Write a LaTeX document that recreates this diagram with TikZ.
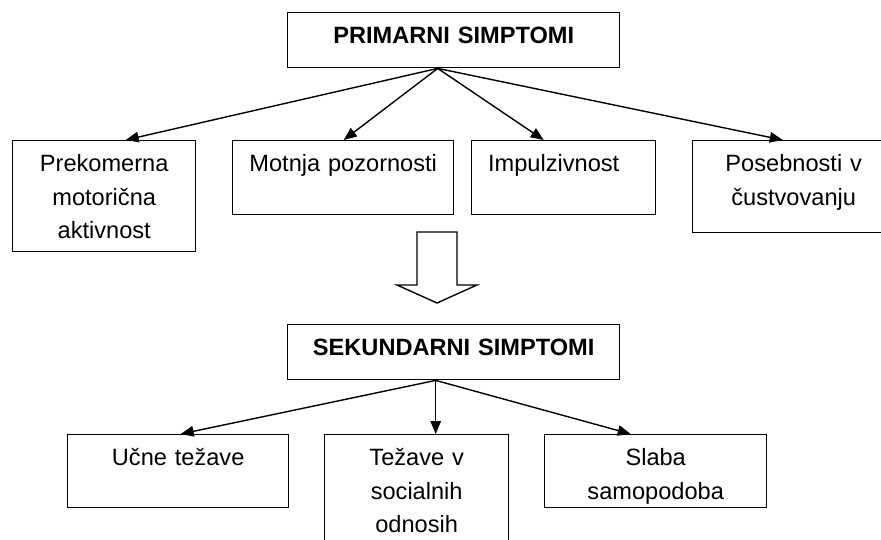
\documentclass[tikz,border=0pt]{standalone}
\usepackage{fontspec}
\setmainfont{Liberation Sans}
\usetikzlibrary{positioning,arrows.meta,calc}

\tikzset{
  box/.style={draw, line width=1.4pt, anchor=north west, align=center,
    inner xsep=0pt, inner ysep=0pt, text height=31pt,
    font=\fontsize{23.6}{33.5}\selectfont},
  title/.style={box, font=\fontsize{23.6}{33.5}\selectfont\bfseries},
  link/.style={line width=1.4pt, -{Triangle[length=13pt,width=10.5pt]}}
}

\begin{document}
\begin{tikzpicture}[x=1pt, y=-1pt]
    \useasboundingbox (0,0) rectangle (881,540);

    % Primary symptoms
    \node[title, text width=332pt, text depth=24pt] (primary) at (287,12) {PRIMARNI SIMPTOMI};
    \node[box, text width=183pt, text depth=80pt] (motor) at (12,140) {Prekomerna\\motorična\\aktivnost};
    \node[box, text width=221pt, text depth=43pt] (attention) at (232,140) {Motnja pozornosti};
    \node[box, text width=184pt, text depth=43pt] (impulse) at (471,140) {Impulzivnost\hspace{20pt}\mbox{}};
    \node[box, text width=202pt, text depth=61pt] (emotion) at (692,140) {Posebnosti v\\čustvovanju};

    \draw[link] ([xshift=-16pt]primary.south) -- ([xshift=21.5pt]motor.north);
    \draw[link] ([xshift=-16pt]primary.south) -- ([xshift=0.5pt]attention.north);
    \draw[link] ([xshift=-16pt]primary.south) -- ([xshift=-20pt]impulse.north);
    \draw[link] ([xshift=-16pt]primary.south) -- ([xshift=-11pt]emotion.north);

    % Hollow arrow down
    \draw[line width=1.4pt, fill=white] (417,232) -- (457,232) -- (457,285) -- (477,285)
        -- (437,303) -- (397,285) -- (417,285) -- cycle;

    % Secondary symptoms
    \node[title, text width=332pt, text depth=24pt] (secondary) at (287,324) {SEKUNDARNI SIMPTOMI};
    \node[box, text width=221pt, text depth=42pt] (learning) at (67,434) {Učne težave};
    \node[box, text width=184pt, text depth=83pt] (social) at (324,434) {Težave v\\socialnih\\odnosih};
    \node[box, text width=222pt, text depth=42pt] (selfimage) at (544,434) {Slaba\\samopodoba};

    \draw[link] ([xshift=-18pt]secondary.south) -- ([xshift=2.5pt]learning.north);
    \draw[link] ([xshift=-18pt]secondary.south) -- ([xshift=19pt]social.north);
    \draw[link] ([xshift=-18pt]secondary.south) -- ([xshift=-25pt]selfimage.north);
\end{tikzpicture}
\end{document}
